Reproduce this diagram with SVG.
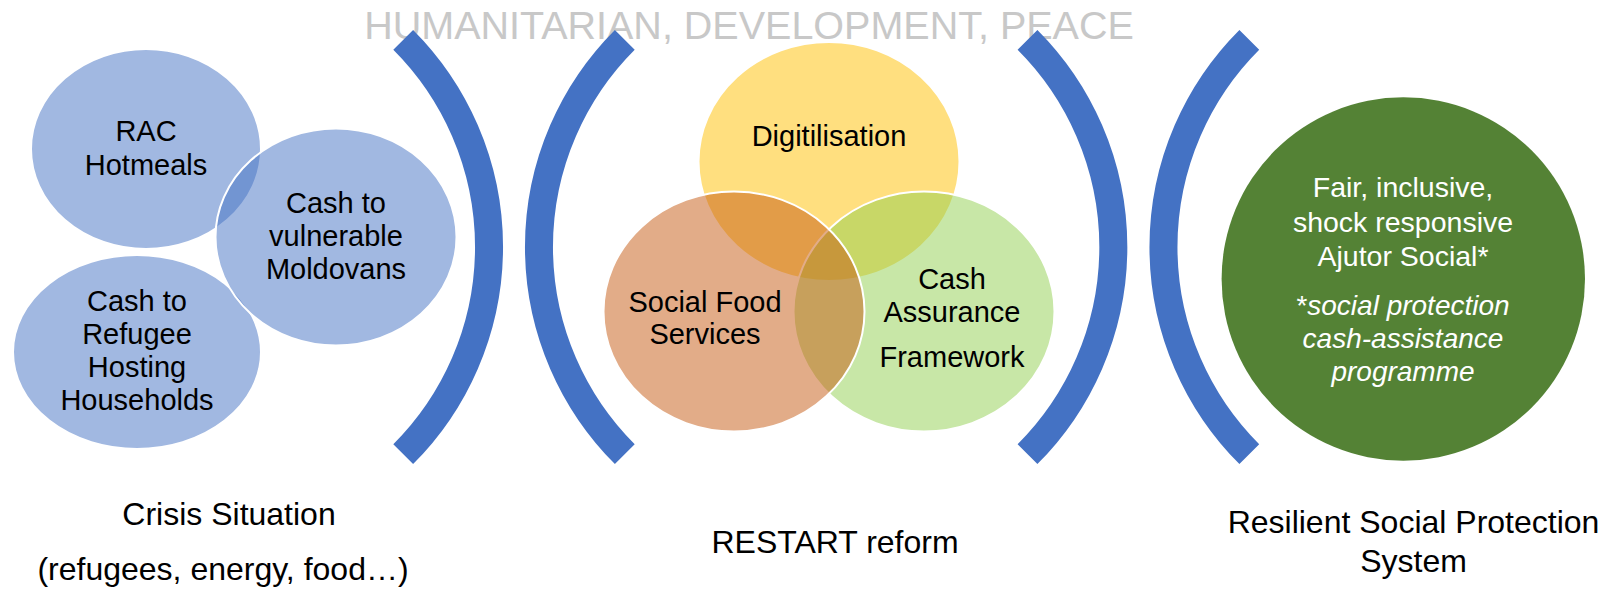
<svg xmlns="http://www.w3.org/2000/svg" width="1616" height="590" viewBox="0 0 1616 590">
<style>
text{font-family:"Liberation Sans",Arial,sans-serif;text-anchor:middle}
.t{font-size:29px;fill:#000}
.lbl{font-size:32px;fill:#000}
.blue{fill:#4472C4;fill-opacity:.5;stroke:#fff;stroke-width:2}
.br{fill:none;stroke:#4472C4;stroke-width:28}
.w{fill:#fff;font-size:28.5px}
.wi{fill:#fff;font-size:28px;font-style:italic}
</style>
<rect width="1616" height="590" fill="#fff"/>
<text id="title" x="749" y="38.5" font-size="39.5" fill="#c8c8c8">HUMANITARIAN, DEVELOPMENT, PEACE</text>

<g id="brackets">
<path class="br" d="M403.2,39.8 A293,293 0 0 1 403.2,454.2"/>
<path class="br" d="M624.8,39.8 A293,293 0 0 0 624.8,454.2"/>
<path class="br" d="M1027.5,39.8 A293,293 0 0 1 1027.5,454.2"/>
<path class="br" d="M1249.3,39.8 A293,293 0 0 0 1249.3,454.2"/>
</g>

<g id="crisis">
<g id="rac">
<ellipse class="blue" cx="146" cy="149" rx="115" ry="100"/>
</g>
<g id="refugee">
<ellipse class="blue" cx="137" cy="352" rx="124" ry="97"/>
</g>
<g id="vulnerable">
<ellipse class="blue" cx="336" cy="237" rx="120.5" ry="108.5"/>
</g>
<text class="t" x="146" y="141">RAC</text>
<text class="t" x="146" y="175">Hotmeals</text>
<text class="t" x="336" y="213">Cash to</text>
<text class="t" x="336" y="246">vulnerable</text>
<text class="t" x="336" y="279">Moldovans</text>
<text class="t" x="137" y="311">Cash to</text>
<text class="t" x="137" y="344">Refugee</text>
<text class="t" x="137" y="377">Hosting</text>
<text class="t" x="137" y="410">Households</text>
<text class="lbl" x="229" y="525" font-size="32.5">Crisis Situation</text>
<text class="lbl" x="223" y="580" font-size="35.5">(refugees, energy, food…)</text>
</g>

<g id="restart">
<g id="digitilisation">
<ellipse cx="829" cy="161.5" rx="130.5" ry="119.5" fill="#FFC000" fill-opacity=".5" stroke="#fff" stroke-width="2"/>
</g>
<g id="cash-assurance">
<ellipse cx="924" cy="311.5" rx="130.5" ry="120" fill="#92D050" fill-opacity=".5" stroke="#fff" stroke-width="2"/>
</g>
<g id="social-food">
<ellipse cx="734" cy="311.5" rx="130.5" ry="120" fill="#C55A11" fill-opacity=".5" stroke="#fff" stroke-width="2"/>
</g>
<text class="t" x="829" y="146">Digitilisation</text>
<text class="t" x="705" y="312">Social Food</text>
<text class="t" x="705" y="344">Services</text>
<text class="t" x="952" y="289">Cash</text>
<text class="t" x="952" y="322">Assurance</text>
<text class="t" x="952" y="367">Framework</text>
<text class="lbl" x="835" y="553" font-size="29.5">RESTART reform</text>
</g>

<g id="resilient">
<circle cx="1403.3" cy="279" r="181.7" fill="#548235"/>
<text class="w" x="1403" y="197">Fair, inclusive,</text>
<text class="w" x="1403" y="232">shock responsive</text>
<text class="w" x="1403" y="266">Ajutor Social*</text>
<text class="wi" x="1403" y="315"><tspan font-style="normal">*</tspan>social protection</text>
<text class="wi" x="1403" y="348">cash-assistance</text>
<text class="wi" x="1403" y="381">programme</text>
<text class="lbl" x="1413.5" y="533" font-size="34.5">Resilient Social Protection</text>
<text class="lbl" x="1413.5" y="572" font-size="34.5">System</text>
</g>
</svg>
